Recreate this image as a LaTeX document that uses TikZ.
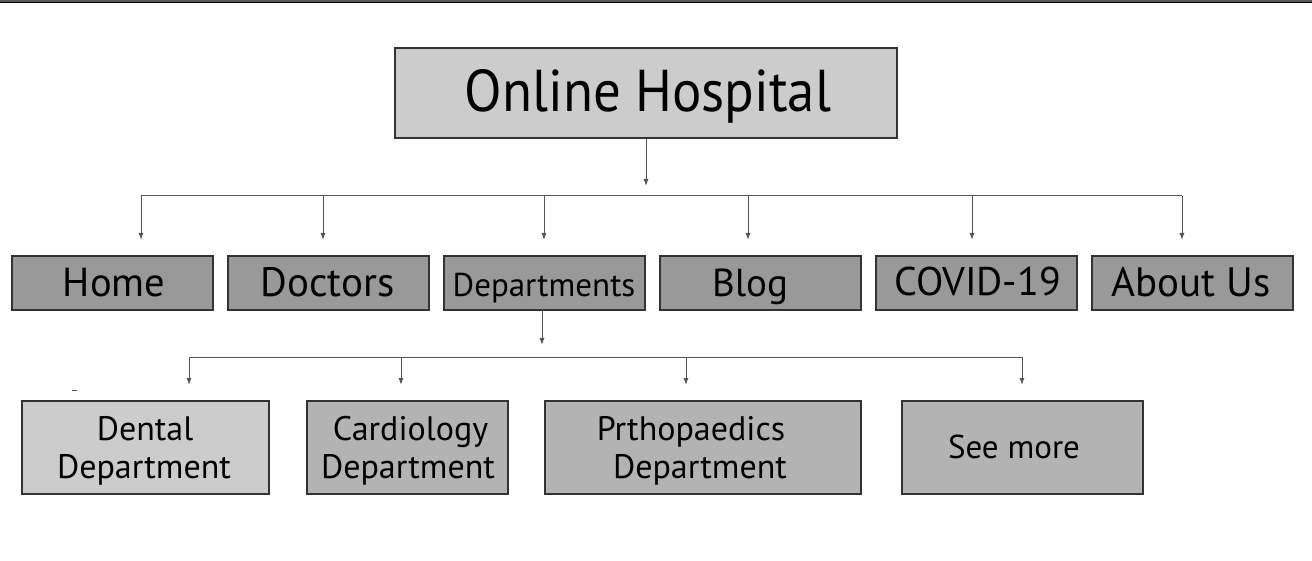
\documentclass[tikz,border=0pt]{standalone}
\usepackage{fontspec}
\setmainfont{PT Sans}
\newfontfamily\titlefont[FakeStretch=0.93]{PT Sans}
\usetikzlibrary{arrows.meta,calc}
\definecolor{boxline}{HTML}{333333}
\definecolor{lightfill}{HTML}{CCCCCC}
\definecolor{darkfill}{HTML}{999999}
\definecolor{midfill}{HTML}{B3B3B3}
\definecolor{wire}{HTML}{555555}
\definecolor{band}{HTML}{5A5A5A}
\begin{document}
\begin{tikzpicture}[x=1pt,y=-1pt,
  box/.style={draw=boxline,line width=1.1pt,inner sep=0pt},
  titlebox/.style={box,fill=lightfill,minimum width=502pt,minimum height=90pt},
  menubox/.style={box,fill=darkfill,minimum width=201pt,minimum height=54pt},
  subbox/.style={box,fill=midfill,minimum height=93pt},
  lbl/.style={inner sep=0pt,anchor=base,text=black},
  fs/.style={font=\fontsize{#1}{#1}\selectfont},
  bus/.style={draw=wire,line width=1pt},
  arr/.style={draw=wire,line width=1pt,-{Latex[length=7pt,width=5pt]}}
]
\useasboundingbox (0,0) rectangle (1312,561);
% dark band along the top edge
\fill[band] (0,0) rectangle (1312,2.5);
\fill[black] (0,2.5) rectangle (1312,3.5);

% title
\node[titlebox] (top) at (646,93) {};
\node[lbl,font=\titlefont\fontsize{59}{59}\selectfont] (top-t) at (648,112) {Online Hospital};

% main menu
\node[menubox] (home) at (112.5,283) {};
\node[menubox] (doctors) at (328.5,283) {};
\node[menubox] (depts) at (544.5,283) {};
\node[menubox] (blog) at (760.5,283) {};
\node[menubox] (covid) at (976.5,283) {};
\node[menubox] (about) at (1192.5,283) {};
\node[lbl,fs=40.5] (home-t) at (114,297) {Home};
\node[lbl,fs=41] (doctors-t) at (327.5,297) {Doctors};
\node[lbl,fs=33] (depts-t) at (544,297) {Departments};
\node[lbl,fs=39] (blog-t) at (750,297) {Blog};
\node[lbl,fs=40] (covid-t) at (977.5,296) {COVID-19};
\node[lbl,fs=41] (about-t) at (1191,297) {About Us};

% department pages
\node[subbox,fill=lightfill,minimum width=247pt] (dental) at (145.5,447.5) {};
\node[subbox,minimum width=201pt] (cardio) at (407.5,447.5) {};
\node[subbox,minimum width=316pt] (ortho) at (703,447.5) {};
\node[subbox,minimum width=241pt] (more) at (1022.5,447.5) {};
\node[lbl,fs=34] (dental-t1) at (145,440) {Dental};
\node[lbl,fs=34] (dental-t2) at (144,478) {Department};
\node[lbl,fs=34] (cardio-t1) at (410.5,440) {Cardiology};
\node[lbl,fs=34] (cardio-t2) at (408,478) {Department};
\node[lbl,fs=34] (ortho-t1) at (691,440) {Prthopaedics};
\node[lbl,fs=34] (ortho-t2) at (700,478) {Department};
\node[lbl,fs=33] (more-t) at (1014,458) {See more};

% first level connectors
\coordinate (topend) at (646,186);
\draw[arr] (top.south) -- (topend);
\coordinate (busL) at (141,196);
\coordinate (busR) at (1182,196);
\draw[bus] (busL) -- (busR);
\foreach \n/\x in {home/141,doctors/323,depts/544,blog/748,covid/972,about/1182}{
  \coordinate (\n-from) at (\x,196);
  \coordinate (\n-to) at (\x,240);
  \draw[arr] (\n-from) -- (\n-to);
}

% second level connectors
\coordinate (deptsout) at (542,310);
\coordinate (deptsend) at (542,345);
\draw[arr] (deptsout) -- (deptsend);
\coordinate (subL) at (189,357);
\coordinate (subR) at (1022,357);
\draw[bus] (subL) -- (subR);
\foreach \n/\x in {dental/189,cardio/401,ortho/686,more/1022}{
  \coordinate (\n-from) at (\x,357);
  \coordinate (\n-to) at (\x,385);
  \draw[arr] (\n-from) -- (\n-to);
}

% small stray tick left of the dental box
\draw[wire,line width=0.8pt] (72,390) -- (77,390);
\end{tikzpicture}
\end{document}
